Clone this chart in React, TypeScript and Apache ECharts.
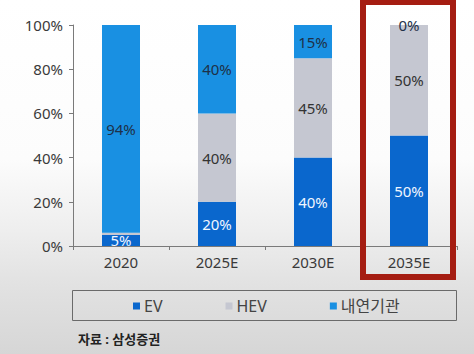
import React, { useEffect, useRef } from "react";
import * as echarts from "echarts";

const categories = ["2020", "2025E", "2030E", "2035E"];
const evValues = [5, 20, 40, 50];
const hevValues = [1, 40, 45, 50];
const iceValues = [94, 40, 15, 0];
const yTicks = [0, 20, 40, 60, 80, 100];
const seriesNames = ["EV", "HEV", "내연기관"];
const sourceText = "자료 : 삼성증권";

const FONT = "'Noto Sans', 'Noto Sans CJK KR', sans-serif";

export default function App() {
  const ref = useRef<HTMLDivElement>(null);
  useEffect(() => {
    if (!ref.current) return;
    const chart = echarts.init(ref.current, undefined, { renderer: "svg" });
    const mkLabel = (color: string) => ({
      show: true,
      position: "inside" as const,
      formatter: "{c}%",
      color,
      fontSize: 15,
      fontFamily: FONT,
    });
    chart.setOption({
      animation: false,
      backgroundColor: "transparent",
      textStyle: { fontFamily: FONT },
      grid: { left: 73, right: 17, top: 25, bottom: 108, containLabel: false },
      xAxis: {
        type: "category",
        data: categories,
        axisLine: { lineStyle: { color: "#7a7a7a", width: 1 } },
        axisTick: { show: true, length: 4, lineStyle: { color: "#7a7a7a" } },
        axisLabel: { color: "#3a3a3a", fontSize: 15, margin: 8, fontFamily: FONT },
      },
      yAxis: {
        type: "value",
        min: 0,
        max: yTicks[yTicks.length - 1],
        interval: yTicks[1] - yTicks[0],
        axisLine: { show: true, lineStyle: { color: "#7a7a7a", width: 1 } },
        axisTick: { show: true, length: 4, lineStyle: { color: "#7a7a7a" } },
        splitLine: { show: false },
        axisLabel: { color: "#3a3a3a", fontSize: 15, margin: 10, formatter: "{value}%", fontFamily: FONT },
      },
      legend: {
        left: 128,
        top: 293,
        itemWidth: 7,
        itemHeight: 7,
        itemGap: 63,
        icon: "rect",
        data: seriesNames,
        textStyle: { color: "#444", fontSize: 16, fontFamily: FONT, padding: [0, 0, 0, -1] },
      },
      graphic: [
        {
          type: "rect",
          left: 70,
          top: 288,
          shape: { width: 384, height: 30 },
          style: { fill: "none", stroke: "#6a6a6a", lineWidth: 1 },
          z: 1,
        },
        {
          type: "rect",
          shape: { x: 363, y: 2, width: 90, height: 275 },
          style: { fill: "none", stroke: "#a51d12", lineWidth: 6 },
          z: 10,
        },
        {
          type: "text",
          left: 78,
          top: 332,
          style: { text: sourceText, fill: "#222", font: `bold 13px ${FONT}` },
        },
      ],
      series: [
        {
          name: seriesNames[0],
          type: "bar",
          stack: "total",
          barWidth: 38,
          data: evValues,
          itemStyle: { color: "#0a67cd" },
          label: mkLabel("#f0f6ff"),
        },
        {
          name: seriesNames[1],
          type: "bar",
          stack: "total",
          barWidth: 38,
          data: hevValues.map((v) => ({ value: v, label: { show: v >= 5 } })),
          itemStyle: { color: "#c5c7d1" },
          label: mkLabel("#333333"),
        },
        {
          name: seriesNames[2],
          type: "bar",
          stack: "total",
          barWidth: 38,
          data: iceValues,
          itemStyle: { color: "#1990e2" },
          label: mkLabel("#1e3048"),
        },
      ],
    });
    return () => chart.dispose();
  }, []);
  return (
    <div
      ref={ref}
      style={{
        position: "fixed",
        left: 0,
        top: 0,
        width: 474,
        height: 354,
        background:
          "linear-gradient(to bottom, #ffffff 0%, #fcfcfc 45%, #eeeeee 65%, #e2e2e2 80%, #d6d6d6 100%)",
      }}
    />
  );
}
